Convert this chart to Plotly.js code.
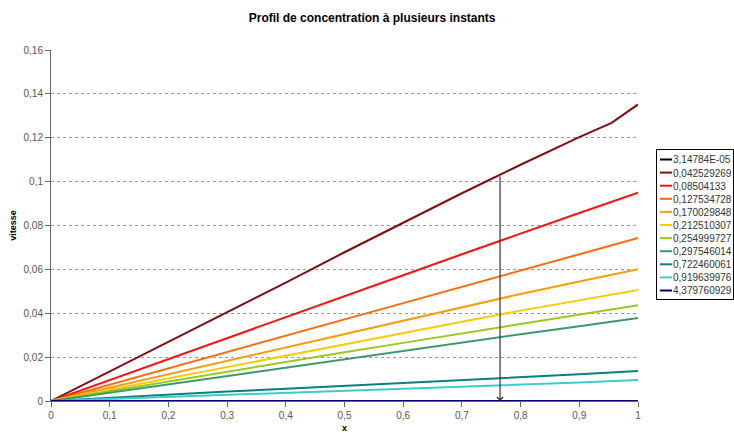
<!DOCTYPE html>
<html>
<head>
<meta charset="utf-8">
<script src="https://cdn.plot.ly/plotly-3.0.1.min.js"></script>
<style>html,body{margin:0;padding:0;background:#fff;}#chart{width:734px;height:433px;}</style>
</head>
<body>
<div id="chart"></div>
<script>
// Series names (instants)
const seriesNames = ["3,14784E-05","0,042529269","0,08504133","0,127534728","0,170029848","0,212510307","0,254999727","0,297546014","0,722460061","0,919639976","4,379760929"];
const seriesColors = ["#000000","#7f0f12","#ff1010","#ff6a0a","#ff9a0a","#f5cc0a","#99c81e","#3a9a6a","#0a8080","#3ccccc","#000080"];

// x positions
const xs = [0,0.1,0.2,0.3,0.4,0.5,0.6,0.7,0.8,0.9,1.0];
const xsDark = [0,0.1,0.2,0.3,0.4,0.5,0.6,0.7,0.8,0.9,0.955,1.0];

// values
const s0 = [0,0,0,0,0,0,0,0,0,0,0];
const s1 = [0,0.0135,0.0270,0.0403,0.0540,0.0678,0.0812,0.0947,0.1077,0.1203,0.1268,0.1352];
const s2 = [0,0.0095,0.0190,0.0286,0.0382,0.0477,0.0573,0.0669,0.0764,0.0857,0.0950];
const s3 = [0,0.0075,0.0149,0.0223,0.0298,0.0372,0.0446,0.0520,0.0595,0.0668,0.0743];
const s4 = [0,0.0061,0.0122,0.0184,0.0245,0.0306,0.0368,0.0428,0.0488,0.0545,0.0601];
const s5 = [0,0.0052,0.0104,0.0156,0.0208,0.0260,0.0311,0.0361,0.0412,0.0460,0.0506];
const s6 = [0,0.0045,0.0090,0.0135,0.0179,0.0222,0.0265,0.0308,0.0352,0.0395,0.0437];
const s7 = [0,0.0038,0.0077,0.0116,0.0155,0.0193,0.0230,0.0267,0.0304,0.0341,0.0378];
const s8 = [0,0.0015,0.0029,0.0043,0.0056,0.0069,0.0081,0.0093,0.0106,0.0122,0.0137];
const s9 = [0,0.0009,0.0018,0.0027,0.0036,0.0045,0.0054,0.0063,0.0073,0.0084,0.0096];
const s10 = [0,0,0,0,0,0,0,0,0,0,0];

const seriesValues = [s0,s1,s2,s3,s4,s5,s6,s7,s8,s9,s10];

// arrow marker
const arrowX = 0.765;
const arrowTop = 0.103;
const arrowBottom = 0.0;

const yTicks = [0,0.02,0.04,0.06,0.08,0.1,0.12,0.14,0.16];
const xTicks = [0,0.1,0.2,0.3,0.4,0.5,0.6,0.7,0.8,0.9,1];

const traces = seriesValues.map((v, i) => ({
  x: i === 1 ? xsDark : xs,
  y: v,
  type: 'scatter',
  mode: 'lines',
  name: seriesNames[i],
  line: {color: seriesColors[i], width: 2},
  hoverinfo: 'none'
}));

const layout = {
  width: 734, height: 433,
  margin: {l: 51, r: 96, t: 50, b: 32, autoexpand: false},
  paper_bgcolor: '#ffffff',
  plot_bgcolor: '#ffffff',
  separators: ', ',
  font: {family: 'Liberation Sans, Arial, sans-serif', size: 10, color: '#444'},
  title: {text: '<b>Profil de concentration à plusieurs instants</b>', x: 0.507, xanchor: 'center', y: 0.958, yanchor: 'middle', font: {size: 12, color: '#000'}},
  showlegend: true,
  legend: {
    x: 1.03, xanchor: 'left', y: 0.72, yanchor: 'top',
    bordercolor: '#000', borderwidth: 1, bgcolor: '#fff',
    font: {size: 10, color: '#333'},
    tracegroupgap: 0, itemwidth: 30
  },
  xaxis: {
    range: [0, 1], tickvals: xTicks, ticks: 'outside', ticklen: 5, tickcolor: '#666',
    showgrid: false, zeroline: false, showline: true, linecolor: '#666', linewidth: 1,
    tickfont: {size: 10, color: '#555'},
    title: {text: '<b>x</b>', font: {size: 9, color: '#000'}, standoff: 7}
  },
  yaxis: {
    range: [0, 0.16], tickvals: yTicks, ticks: 'outside', ticklen: 5, tickcolor: '#666',
    showgrid: true, gridcolor: '#999', griddash: 'dot', gridwidth: 1,
    zeroline: false, showline: true, linecolor: '#666', linewidth: 1,
    tickfont: {size: 10, color: '#555'},
    title: {text: '<b>vitesse</b>', font: {size: 9, color: '#000'}, standoff: 5}
  },
  annotations: [{
    x: arrowX, y: arrowBottom, ax: arrowX, ay: arrowTop,
    xref: 'x', yref: 'y', axref: 'x', ayref: 'y',
    showarrow: true, arrowhead: 4, arrowsize: 1, arrowwidth: 1.2, arrowcolor: '#333', text: ''
  }]
};

Plotly.newPlot('chart', traces, layout, {displayModeBar: false, staticPlot: true}).then(gd => {
  // compact the legend to match the reference (short samples, tight rows)
  const leg = gd.querySelector('g.legend');
  if (!leg) return;
  const rowH = 13.1;
  const items = leg.querySelectorAll('g.traces');
  items.forEach((g, i) => {
    g.setAttribute('transform', 'translate(1,' + (10.5 + i * rowH) + ')');
    const p = g.querySelector('.legendlines path');
    if (p) p.setAttribute('d', 'M3,0h12');
    const t = g.querySelector('text.legendtext');
    if (t) t.setAttribute('x', 16);
  });
  const bg = leg.querySelector('rect.bg');
  const w = 77, h = Math.round(10.5 + (items.length - 1) * rowH + 8);
  if (bg) { bg.setAttribute('width', w); bg.setAttribute('height', h); }
  leg.querySelectorAll('clipPath rect').forEach(r => { r.setAttribute('width', w); r.setAttribute('height', h); });
  leg.setAttribute('transform', 'translate(656,149)');
});
</script>
</body>
</html>
